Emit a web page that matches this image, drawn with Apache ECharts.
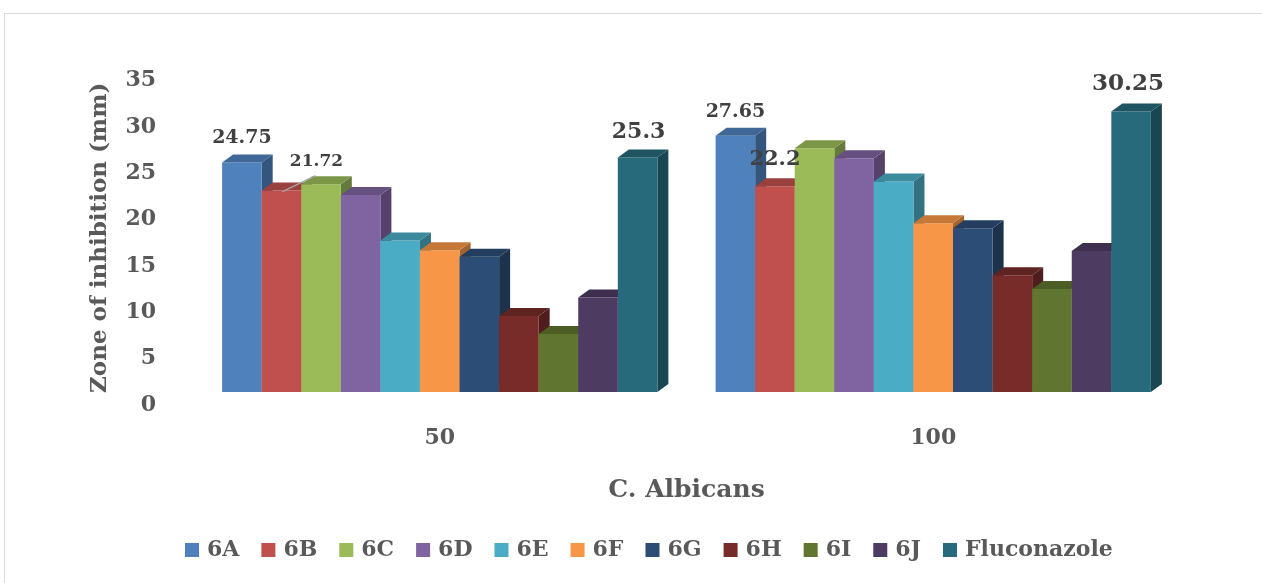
<!DOCTYPE html>
<html>
<head>
<meta charset="utf-8">
<title>Zone of inhibition – C. Albicans</title>
<script src="https://cdn.jsdelivr.net/npm/echarts@6/dist/echarts.min.js"></script>
<style>
  html, body { margin: 0; padding: 0; background: #ffffff; }
  #chart { width: 1262px; height: 583px; }
</style>
</head>
<body>
<div id="chart"></div>
<script>
// Concentrations tested (category axis)
const categories = ['50', '100'];

// Compound names, in legend order
const compounds = ['6A', '6B', '6C', '6D', '6E', '6F', '6G', '6H', '6I', '6J', 'Fluconazole'];

// Zone of inhibition (mm) per compound, at 50 and 100
const v6A = [24.75, 27.65];
const v6B = [21.72, 22.2];
const v6C = [22.4, 26.3];
const v6D = [21.25, 25.2];
const v6E = [16.35, 22.7];
const v6F = [15.3, 18.2];
const v6G = [14.6, 17.65];
const v6H = [8.2, 12.6];
const v6I = [6.25, 11.1];
const v6J = [10.2, 15.2];
const vFluconazole = [25.3, 30.25];

// Value axis ticks
const yTicks = [0, 5, 10, 15, 20, 25, 30, 35];

const seriesValues = [v6A, v6B, v6C, v6D, v6E, v6F, v6G, v6H, v6I, v6J, vFluconazole];

const palette = ['#4F81BD', '#C0504D', '#9BBB59', '#8064A2', '#4BACC6', '#F79646',
                 '#2C4D75', '#772C2A', '#5F7530', '#4D3B62', '#276A7C'];

// Which bars carry a value label, and how the label sits relative to the bar top
const labelStyle = {
  '6A':          [{ dx: 0, dy: -24, size: 19 }, { dx: 0, dy: -24, size: 19 }],
  '6B':          [{ dx: 35, dy: -29, size: 17, leader: true }, { dx: 0, dy: -27, size: 21 }],
  'Fluconazole': [{ dx: 1, dy: -25, size: 22 }, { dx: -3, dy: -28, size: 23 }]
};

const FONT = '"DejaVu Serif", "Liberation Serif", serif';
const DEPTH_X = 11, DEPTH_Y = 8;
const GROUP_FILL = 0.882;

function shade(hex, f) {
  const n = parseInt(hex.slice(1), 16);
  const r = Math.round(((n >> 16) & 255) * f);
  const g = Math.round(((n >> 8) & 255) * f);
  const b = Math.round((n & 255) * f);
  return 'rgb(' + r + ',' + g + ',' + b + ')';
}

function makeRenderer(name, color) {
  return function (params, api) {
    const cat = api.value(0);
    const val = api.value(1);
    const base = api.coord([cat, 0]);
    const top = api.coord([cat, val]);
    const band = api.size([1, 0])[0];
    const groupW = band * GROUP_FILL;
    const w = groupW / compounds.length;
    const x0 = base[0] - groupW / 2 + params.seriesIndex * w;
    const x1 = x0 + w;
    const yb = base[1];
    const yt = top[1];
    const zBase = params.seriesIndex * 3;
    const children = [
      { // right side face
        type: 'polygon', z2: zBase,
        shape: { points: [[x1, yt], [x1 + DEPTH_X, yt - DEPTH_Y], [x1 + DEPTH_X, yb - DEPTH_Y], [x1, yb]] },
        style: { fill: shade(color, 0.66) }
      },
      { // front face
        type: 'rect', z2: zBase + 1,
        shape: { x: x0, y: yt, width: w, height: yb - yt },
        style: { fill: color }
      },
      { // top face
        type: 'polygon', z2: zBase + 2,
        shape: { points: [[x0, yt], [x0 + DEPTH_X, yt - DEPTH_Y], [x1 + DEPTH_X, yt - DEPTH_Y], [x1, yt]] },
        style: { fill: shade(color, 0.8) }
      }
    ];
    const spec = labelStyle[name] && labelStyle[name][params.dataIndex];
    if (spec) {
      const cx = (x0 + x1) / 2;
      const lx = cx + spec.dx;
      const ly = yt + spec.dy;
      if (spec.leader) {
        children.push({
          type: 'line', z2: 200,
          shape: { x1: cx + 1, y1: yt + 1, x2: lx - 1, y2: ly + 14 },
          style: { stroke: '#a6a6a6', lineWidth: 1.4 }
        });
      }
      children.push({
        type: 'text', z2: 201,
        style: {
          text: String(val), x: lx, y: ly,
          align: 'center', verticalAlign: 'middle',
          font: 'bold ' + spec.size + 'px ' + FONT,
          fill: '#404040'
        }
      });
    }
    return { type: 'group', children: children };
  };
}

const series = compounds.map(function (name, i) {
  return {
    name: name,
    type: 'custom',
    renderItem: makeRenderer(name, palette[i]),
    itemStyle: { color: palette[i] },
    encode: { x: 0, y: 1 },
    data: seriesValues[i].map(function (v, c) { return [c, v]; })
  };
});

const chart = echarts.init(document.getElementById('chart'), null, { renderer: 'canvas' });

chart.setOption({
  backgroundColor: '#ffffff',
  animation: false,
  graphic: [{
    type: 'rect', silent: true,
    shape: { x: 4.5, y: 13.5, width: 1400, height: 800 },
    style: { fill: 'none', stroke: '#d9d9d9', lineWidth: 1 }
  }],
  grid: { left: 193, right: 82, top: 67.5, bottom: 191 },
  legend: {
    data: compounds,
    left: 180,
    top: 534,
    icon: 'rect',
    itemWidth: 14,
    itemHeight: 14,
    itemGap: 22,
    textStyle: { fontFamily: FONT, fontWeight: 'bold', fontSize: 22, color: '#595959', padding: [0, 0, 0, 3] }
  },
  xAxis: {
    type: 'category',
    data: categories,
    name: 'C. Albicans',
    nameLocation: 'middle',
    nameGap: 98,
    nameTextStyle: { fontFamily: FONT, fontWeight: 'bold', fontSize: 25, color: '#595959', verticalAlign: 'middle' },
    axisLine: { show: false },
    axisTick: { show: false },
    axisLabel: { margin: 35, fontFamily: FONT, fontWeight: 'bold', fontSize: 22, color: '#595959' }
  },
  yAxis: {
    type: 'value',
    min: yTicks[0],
    max: yTicks[yTicks.length - 1],
    interval: yTicks[1] - yTicks[0],
    name: 'Zone of inhibition (mm)',
    nameLocation: 'middle',
    nameGap: 93,
    nameTextStyle: {
      fontFamily: FONT, fontWeight: 'bold', fontSize: 23, color: '#595959',
      verticalAlign: 'middle', padding: [0, 16, 0, 0]
    },
    splitLine: { show: false },
    axisLine: { show: false },
    axisTick: { show: false },
    axisLabel: {
      margin: 37, fontFamily: FONT, fontWeight: 'bold', fontSize: 22, color: '#595959',
      verticalAlign: 'top', lineHeight: 26
    }
  },
  series: series
});
</script>
</body>
</html>
